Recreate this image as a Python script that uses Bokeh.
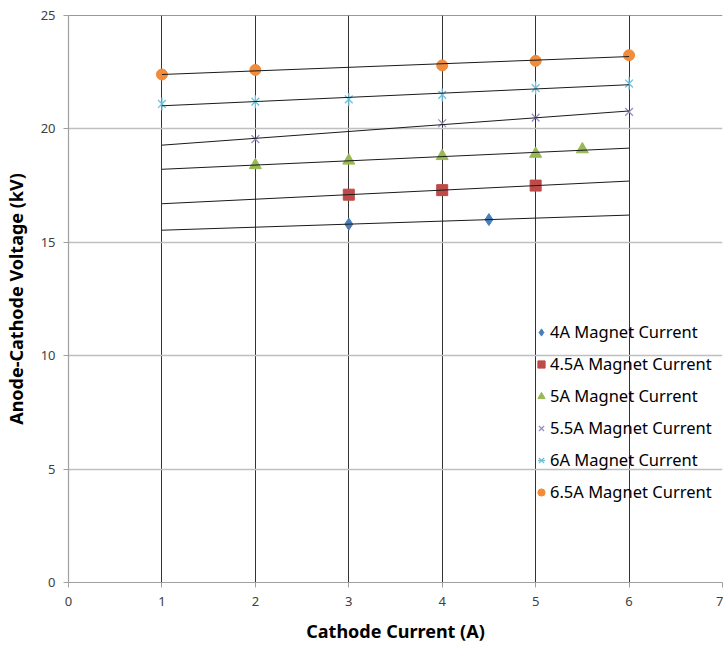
import numpy as np
from bokeh.plotting import figure
from bokeh.models import Range1d, FixedTicker, Span, Legend, LegendItem
from bokeh.embed import file_html
from bokeh.resources import INLINE

# ---- data ----
series_names = ["4A Magnet Current", "4.5A Magnet Current", "5A Magnet Current",
                "5.5A Magnet Current", "6A Magnet Current", "6.5A Magnet Current"]
x_4A = [3, 4.5]
y_4A = [15.8, 16.0]
x_45A = [3, 4, 5]
y_45A = [17.1, 17.3, 17.5]
x_5A = [2, 3, 4, 5, 5.5]
y_5A = [18.4, 18.6, 18.8, 18.9, 19.1]
x_55A = [2, 4, 5, 6]
y_55A = [19.55, 20.25, 20.5, 20.75]
x_6A = [1, 2, 3, 4, 5, 6]
y_6A = [21.1, 21.2, 21.3, 21.5, 21.8, 22.0]
x_65A = [1, 2, 4, 5, 6]
y_65A = [22.4, 22.6, 22.8, 23.0, 23.25]
trend_range = [1, 6]
x_ticks = [0, 1, 2, 3, 4, 5, 6, 7]
y_ticks = [0, 5, 10, 15, 20, 25]

xs = [x_4A, x_45A, x_5A, x_55A, x_6A, x_65A]
ys = [y_4A, y_45A, y_5A, y_55A, y_6A, y_65A]
markers = ["diamond", "square", "triangle", "x", "x", "circle"]
colors = ["#4A7EBB", "#BE4B48", "#98B954", "#9C8DC0", "#6FC0DB", "#F08C3C"]
sizes = [12, 11, 12, 11, 11, 11]

FONT = "Noto Sans"

p = figure(width=723, height=645, output_backend="svg", toolbar_location=None,
           x_range=Range1d(0, 7), y_range=Range1d(0, 25),
           min_border_left=66, min_border_right=1, min_border_top=15, min_border_bottom=62)
p.outline_line_color = None
p.background_fill_color = "white"

# grids
p.xgrid.ticker = FixedTicker(ticks=[1, 2, 3, 4, 5, 6, 7])
p.xgrid.grid_line_color = "#333333"
p.xgrid.grid_line_width = 1
p.ygrid.ticker = FixedTicker(ticks=[5, 10, 15, 20])
p.ygrid.grid_line_color = "#BFBFBF"
p.ygrid.grid_line_width = 1.5
p.add_layout(Span(location=25, dimension="width", line_color="#333333", line_width=1.2))

# axes
for ax in (p.xaxis[0], p.yaxis[0]):
    ax.axis_line_color = "#A0A0A0"
    ax.axis_line_width = 1.2
    ax.major_tick_line_color = "#A0A0A0"
    ax.major_tick_out = 5
    ax.major_tick_in = 0
    ax.minor_tick_line_color = None
    ax.major_label_text_font = FONT
    ax.major_label_text_font_size = "13px"
    ax.major_label_text_color = "#404040"
    ax.axis_label_text_font = FONT
    ax.axis_label_text_font_size = "18px"
    ax.axis_label_text_font_style = "bold"
    ax.axis_label_text_color = "#000000"
p.xaxis.ticker = FixedTicker(ticks=x_ticks)
p.yaxis.ticker = FixedTicker(ticks=y_ticks)
p.xaxis.axis_label = "Cathode Current (A)"
p.yaxis.axis_label = "Anode-Cathode Voltage (kV)"
p.xaxis.major_label_standoff = 9
p.yaxis.major_label_standoff = 8
p.xaxis.axis_label_standoff = 10
p.yaxis.axis_label_standoff = 10

items = []
for i, (name, x, y, m, c, s) in enumerate(zip(series_names, xs, ys, markers, colors, sizes)):
    rs = [p.scatter(x, y, marker=m, size=s, fill_color=c, line_color=c,
                    line_width=1.3 if m == "x" else 1)]
    if i == 4:
        # Excel "star" marker: an x with a vertical bar
        rs.append(p.scatter(x, y, marker="dash", angle=np.pi / 2, size=s + 2,
                            line_color=c, line_width=1.3))
    k, b = np.polyfit(x, y, 1)
    tx = np.array(trend_range, dtype=float)
    p.line(tx, k * tx + b, line_color="#1a1a1a", line_width=1)
    items.append(LegendItem(label=name, renderers=rs))

legend = Legend(items=items, location=(464, 79))
legend.background_fill_alpha = 0
legend.border_line_color = None
legend.label_text_font = FONT
legend.label_text_font_size = "16.5px"
legend.label_text_color = "#000000"
legend.glyph_width = 18
legend.glyph_height = 22
legend.label_height = 22
legend.spacing = 9
legend.label_standoff = 0
legend.padding = 4
p.add_layout(legend)

open("out.html", "w").write(file_html(p, INLINE))
